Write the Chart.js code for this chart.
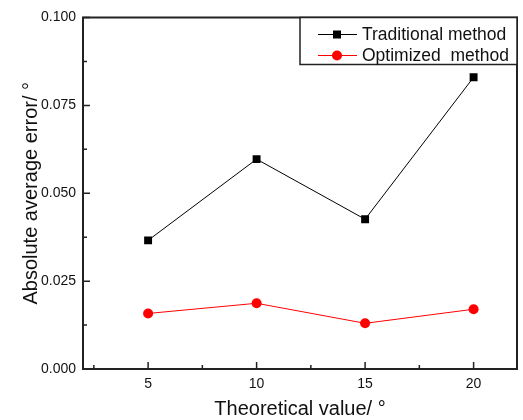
<!DOCTYPE html>
<html>
<head>
<meta charset="utf-8">
<script src="https://cdn.jsdelivr.net/npm/chart.js@4"></script>
<style>
html,body{margin:0;padding:0;background:#fff;}
#wrap{width:523px;height:420px;}
</style>
</head>
<body>
<div id="wrap"><canvas id="c" width="523" height="420"></canvas></div>
<script>
const xValues = [5, 10, 15, 20];
const traditional = [0.0366, 0.0597, 0.0426, 0.0830];
const optimized = [0.0158, 0.0187, 0.0130, 0.0170];
const xTickValues = [5, 10, 15, 20];
const yTickValues = [0, 0.025, 0.05, 0.075, 0.1];
const yTickLabels = ['0.000', '0.025', '0.050', '0.075', '0.100'];
const seriesNames = ['Traditional method', 'Optimized  method'];

const FONT = 'Arial, "Liberation Sans", sans-serif';

const frameAndTicks = {
  id: 'frameAndTicks',
  afterDatasetsDraw(chart) {
    const {ctx, chartArea: a, scales: {x, y}} = chart;
    ctx.save();
    ctx.strokeStyle = '#222';
    ctx.lineWidth = 1.5;
    // inner ticks
    ctx.beginPath();
    const xs = xTickValues;
    for (let i = 0; i < xs.length; i++) {
      const px = x.getPixelForValue(xs[i]);
      ctx.moveTo(px, a.bottom); ctx.lineTo(px, a.bottom - 7);
    }
    const step = xs[1] - xs[0];
    for (let v = xs[0] - step / 2; v < x.max; v += step) {
      if (v <= x.min) continue;
      const px = x.getPixelForValue(v);
      ctx.moveTo(px, a.bottom); ctx.lineTo(px, a.bottom - 4);
    }
    for (let i = 0; i < yTickValues.length; i++) {
      const py = y.getPixelForValue(yTickValues[i]);
      ctx.moveTo(a.left, py); ctx.lineTo(a.left + 7, py);
      if (i < yTickValues.length - 1) {
        const pm = y.getPixelForValue((yTickValues[i] + yTickValues[i + 1]) / 2);
        ctx.moveTo(a.left, pm); ctx.lineTo(a.left + 4, pm);
      }
    }
    ctx.stroke();
    // frame
    ctx.lineWidth = 2;
    ctx.strokeRect(a.left, a.top, a.right - a.left, a.bottom - a.top);

    // legend
    const lx = 300, ly = a.top, lw = a.right - lx, lh = 47;
    ctx.fillStyle = '#fff';
    ctx.fillRect(lx, ly, lw, lh);
    ctx.lineWidth = 1.5;
    ctx.strokeRect(lx, ly, lw, lh);
    const rows = [ly + 17, ly + 38];
    chart.data.datasets.forEach((ds, i) => {
      const ry = rows[i];
      ctx.strokeStyle = ds.borderColor;
      ctx.lineWidth = 1;
      ctx.beginPath();
      ctx.moveTo(318, ry); ctx.lineTo(357, ry);
      ctx.stroke();
      ctx.fillStyle = ds.pointBackgroundColor;
      ctx.beginPath();
      if (ds.pointStyle === 'rect') {
        ctx.rect(337 - 4, ry - 4, 8, 8);
      } else {
        ctx.arc(337, ry, 5, 0, Math.PI * 2);
      }
      ctx.fill();
      ctx.fillStyle = '#111';
      ctx.font = '17.5px ' + FONT;
      ctx.textBaseline = 'middle';
      ctx.textAlign = 'left';
      ctx.fillText(ds.label, 362, ry + 1);
    });
    ctx.restore();
  }
};

new Chart(document.getElementById('c'), {
  type: 'line',
  data: {
    datasets: [
      {
        label: seriesNames[0],
        data: xValues.map((v, i) => ({x: v, y: traditional[i]})),
        borderColor: '#000',
        backgroundColor: '#000',
        pointBackgroundColor: '#000',
        pointBorderColor: '#000',
        pointStyle: 'rect',
        pointRadius: 5.6,
        pointBorderWidth: 0,
        borderWidth: 1,
        tension: 0
      },
      {
        label: seriesNames[1],
        data: xValues.map((v, i) => ({x: v, y: optimized[i]})),
        borderColor: '#ff0000',
        backgroundColor: '#ff0000',
        pointBackgroundColor: '#ff0000',
        pointBorderColor: '#ff0000',
        pointStyle: 'circle',
        pointRadius: 5,
        pointBorderWidth: 0,
        borderWidth: 1,
        tension: 0
      }
    ]
  },
  options: {
    responsive: false,
    animation: false,
    devicePixelRatio: 1,
    layout: {padding: {left: 0, top: 17.5, right: 6, bottom: 0}},
    plugins: {legend: {display: false}, tooltip: {enabled: false}},
    scales: {
      x: {
        type: 'linear',
        min: 2, max: 22,
        afterBuildTicks(s) { s.ticks = xTickValues.map(v => ({value: v})); },
        afterFit(s) { s.height = 51; },
        grid: {display: false, drawTicks: false},
        border: {display: false},
        ticks: {
          padding: 7,
          color: '#111',
          font: {family: FONT, size: 14},
          callback: v => String(v)
        },
        title: {
          display: true,
          text: 'Theoretical value/ °',
          color: '#111',
          font: {family: FONT, size: 20, lineHeight: 1},
          padding: {top: 0, bottom: 1}
        }
      },
      y: {
        type: 'linear',
        min: 0, max: 0.1,
        afterBuildTicks(s) { s.ticks = yTickValues.map(v => ({value: v})); },
        afterFit(s) { s.width = 83; },
        grid: {display: false, drawTicks: false},
        border: {display: false},
        ticks: {
          padding: 7,
          color: '#111',
          font: {family: FONT, size: 14},
          callback: (v) => yTickLabels[yTickValues.findIndex(t => Math.abs(t - v) < 1e-9)]
        },
        title: {
          display: true,
          text: 'Absolute average error/ °',
          color: '#111',
          font: {family: FONT, size: 20, lineHeight: 1},
          padding: {top: 21, bottom: 0}
        }
      }
    }
  },
  plugins: [frameAndTicks]
});
</script>
</body>
</html>
